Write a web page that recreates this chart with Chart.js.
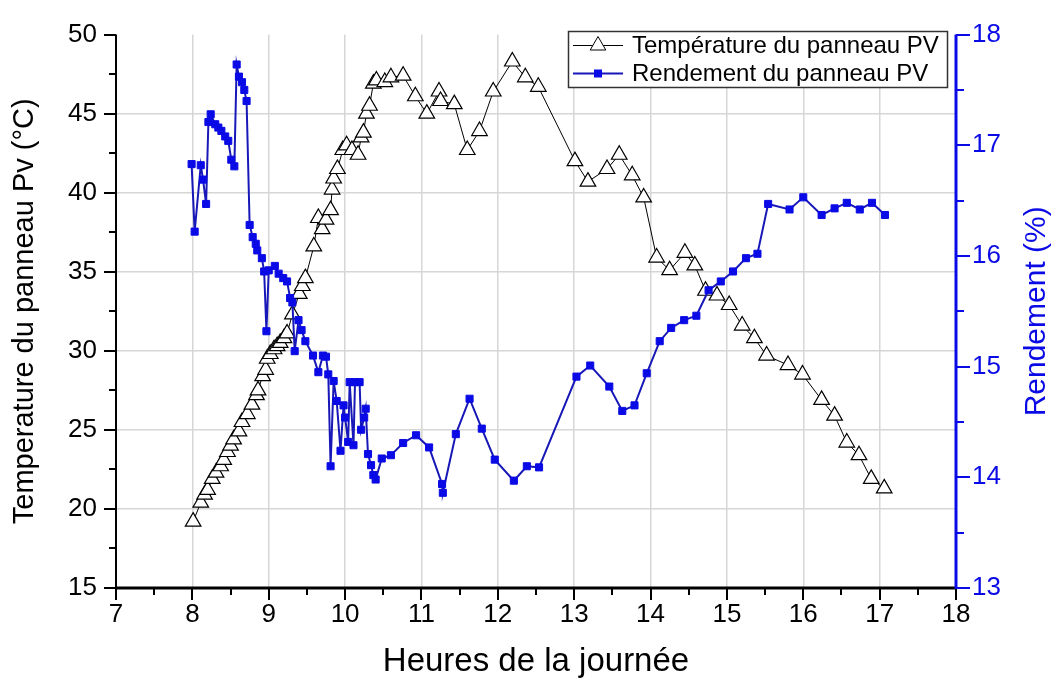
<!DOCTYPE html>
<html>
<head>
<meta charset="utf-8">
<script src="https://cdn.jsdelivr.net/npm/chart.js@4.4.1/dist/chart.umd.min.js"></script>
<style>
    html, body { margin: 0; padding: 0; background: #fff; }
    #chart { display: block; }
</style>
</head>
<body>
<canvas id="chart" width="1059" height="684"></canvas>
<script>
// Data
const tempHours = [8.01, 8.11, 8.16, 8.20, 8.26, 8.31, 8.37, 8.41, 8.46, 8.50, 8.54, 8.61, 8.65, 8.72, 8.78,
    8.84, 8.86, 8.92, 8.96, 8.98, 9.02, 9.07, 9.11, 9.15, 9.20, 9.24, 9.31, 9.40, 9.44, 9.48,
    9.59, 9.65, 9.70, 9.75, 9.81, 9.83, 9.85, 9.90, 9.97, 10.02, 10.09, 10.17, 10.21, 10.24, 10.28,
    10.32, 10.37, 10.41, 10.52, 10.60, 10.76, 10.92, 11.07, 11.23, 11.25, 11.43, 11.60, 11.76, 11.94,
    12.19, 12.36, 12.53, 13.01, 13.18, 13.43, 13.59, 13.76, 13.91, 14.08, 14.25, 14.45, 14.58, 14.72,
    14.87, 15.03, 15.20, 15.36, 15.52, 15.80, 15.99, 16.24, 16.41, 16.57, 16.73, 16.89, 17.06];
const tempValues = [19.2, 20.4, 20.9, 21.2, 21.9, 22.3, 22.7, 23.1, 23.6, 24.0, 24.4, 24.9, 25.5, 26.0, 26.6,
    27.2, 27.5, 28.4, 28.8, 29.5, 29.8, 30.1, 30.3, 30.5, 30.8, 31.1, 32.3, 33.6, 34.1, 34.6,
    36.6, 38.4, 37.7, 38.3, 38.9, 40.2, 40.9, 41.5, 42.7, 43.0, 42.7, 42.4, 43.5, 43.8, 45.0,
    45.5, 46.9, 47.1, 47.0, 47.3, 47.4, 46.1, 45.0, 46.4, 45.8, 45.6, 42.7, 43.9, 46.4,
    48.3, 47.3, 46.7, 42.0, 40.7, 41.5, 42.4, 41.1, 39.7, 35.9, 35.1, 36.2, 35.4, 33.8,
    33.5, 32.9, 31.6, 30.8, 29.7, 29.1, 28.5, 26.9, 25.9, 24.2, 23.4, 21.9, 21.3];

const yieldHours = [7.99, 8.03, 8.11, 8.14, 8.18, 8.21, 8.24, 8.30, 8.34, 8.38, 8.43, 8.47, 8.51, 8.55,
    8.58, 8.61, 8.65, 8.68, 8.71, 8.75, 8.79, 8.83, 8.85, 8.91, 8.94, 8.97, 9.00, 9.08, 9.13,
    9.19, 9.24, 9.28, 9.31, 9.34, 9.39, 9.43, 9.48, 9.58, 9.65, 9.71, 9.75, 9.78, 9.81, 9.85,
    9.89, 9.94, 9.98, 10.00, 10.04, 10.06, 10.11, 10.13, 10.19, 10.21, 10.25, 10.27, 10.30, 10.34,
    10.37, 10.40, 10.48, 10.60, 10.76, 10.93, 11.10, 11.27, 11.28, 11.45, 11.63, 11.79, 11.96,
    12.21, 12.38, 12.54, 13.03, 13.21, 13.46, 13.63, 13.79, 13.95, 14.12, 14.27, 14.44, 14.60,
    14.76, 14.92, 15.08, 15.25, 15.40, 15.54, 15.82, 16.00, 16.24, 16.41, 16.57, 16.74, 16.90, 17.07];
const yieldValues = [16.83, 16.22, 16.82, 16.69, 16.47, 17.21, 17.28, 17.19, 17.16, 17.13, 17.08, 17.04, 16.87, 16.81,
    17.73, 17.62, 17.57, 17.50, 17.40, 16.28, 16.17, 16.11, 16.05, 15.98, 15.86, 15.32, 15.87, 15.91, 15.84,
    15.80, 15.77, 15.62, 15.58, 15.14, 15.42, 15.33, 15.23, 15.10, 14.95, 15.10, 15.09, 14.93, 14.10, 14.87,
    14.69, 14.24, 14.65, 14.54, 14.32, 14.86, 14.29, 14.86, 14.86, 14.43, 14.54, 14.62, 14.21, 14.11,
    14.02, 13.98, 14.17, 14.20, 14.31, 14.38, 14.27, 13.94, 13.86, 14.39, 14.71, 14.44, 14.16,
    13.97, 14.10, 14.09, 14.91, 15.01, 14.82, 14.60, 14.65, 14.94, 15.23, 15.35, 15.42, 15.46,
    15.69, 15.77, 15.86, 15.98, 16.02, 16.47, 16.42, 16.53, 16.37, 16.43, 16.48, 16.42, 16.48, 16.37];

const xRange = [7, 18];
const tempRange = [15, 50];
const yieldRange = [13, 18];

const tempLabel = 'Température du panneau PV';
const yieldLabel = 'Rendement du panneau PV';

const FONT = 'Arial, "Liberation Sans", sans-serif';
const BLUE = '#0a0ae6';
const BLUE_LINE = '#1818b8';
const GRID = '#d6d6d6';

// Axis lines, tick marks, right title and legend drawn by hand
const decor = {
    id: 'decor',
    afterDraw(chart) {
        const ctx = chart.ctx;
        const { left, right, top, bottom } = chart.chartArea;
        const x = chart.scales.x, y = chart.scales.y, y1 = chart.scales.y1;

        const line = (x1, y1p, x2, y2) => {
            ctx.beginPath();
            ctx.moveTo(x1, y1p);
            ctx.lineTo(x2, y2);
            ctx.stroke();
        };

        ctx.save();
        ctx.strokeStyle = '#000';

        // left axis
        ctx.lineWidth = 2;
        line(left, top, left, bottom);
        for (let v = tempRange[0]; v <= tempRange[1]; v += 2.5) {
            const py = Math.round(y.getPixelForValue(v));
            line(left - (v % 5 === 0 ? 12 : 7), py, left, py);
        }

        // bottom axis
        for (let h = xRange[0]; h <= xRange[1]; h += 0.5) {
            const px = Math.round(x.getPixelForValue(h));
            line(px, bottom, px, bottom + (h % 1 === 0 ? 12 : 7));
        }
        ctx.lineWidth = 3;
        line(left - 1, bottom, right, bottom);

        // right axis (blue)
        ctx.strokeStyle = BLUE;
        ctx.lineWidth = 2;
        for (let v = yieldRange[0]; v <= yieldRange[1]; v += 0.5) {
            const py = Math.round(y1.getPixelForValue(v));
            line(right, py, right + (v % 1 === 0 ? 14 : 8), py);
        }
        ctx.lineWidth = 3;
        line(right, top, right, bottom + 1);

        // right title
        ctx.fillStyle = BLUE;
        ctx.font = '30px ' + FONT;
        ctx.textAlign = 'center';
        ctx.textBaseline = 'middle';
        ctx.translate(1037, (top + bottom) / 2);
        ctx.rotate(-Math.PI / 2);
        ctx.fillText('Rendement (%)', 0, 0);
        ctx.restore();

        // legend
        ctx.save();
        const bx = 568.5, by = 31.5, bw = 379, bh = 56;
        ctx.fillStyle = '#fff';
        ctx.fillRect(bx, by, bw, bh);
        ctx.strokeStyle = '#333';
        ctx.lineWidth = 1.5;
        ctx.strokeRect(bx, by, bw, bh);

        const r1 = by + 14, r2 = by + 42;
        ctx.strokeStyle = '#000';
        ctx.lineWidth = 1;
        line(573, r1, 623, r1);
        ctx.fillStyle = '#fff';
        ctx.beginPath();
        ctx.moveTo(598, r1 - 9);
        ctx.lineTo(598 + 7.8, r1 + 4.5);
        ctx.lineTo(598 - 7.8, r1 + 4.5);
        ctx.closePath();
        ctx.fill();
        ctx.stroke();

        ctx.strokeStyle = BLUE_LINE;
        ctx.lineWidth = 2;
        line(573, r2, 623, r2);
        ctx.fillStyle = BLUE;
        ctx.fillRect(594, r2 - 4, 8, 8);

        ctx.fillStyle = '#000';
        ctx.font = '24px ' + FONT;
        ctx.textAlign = 'left';
        ctx.textBaseline = 'middle';
        ctx.fillText(tempLabel, 632, r1 + 1);
        ctx.fillText(yieldLabel, 632, r2 + 1);
        ctx.restore();
    }
};

const ctx = document.getElementById('chart').getContext('2d');

new Chart(ctx, {
    type: 'line',
    data: {
        datasets: [
            {
                label: tempLabel,
                data: tempHours.map((h, i) => ({ x: h, y: tempValues[i] })),
                yAxisID: 'y',
                borderColor: '#000',
                borderWidth: 1,
                pointStyle: 'triangle',
                pointRadius: 9,
                pointBackgroundColor: '#fff',
                pointBorderColor: '#000',
                pointBorderWidth: 1.2,
                tension: 0,
                order: 1
            },
            {
                label: yieldLabel,
                data: yieldHours.map((h, i) => ({ x: h, y: yieldValues[i] })),
                yAxisID: 'y1',
                borderColor: BLUE_LINE,
                borderWidth: 2,
                pointStyle: 'rect',
                pointRadius: 5,
                pointBackgroundColor: BLUE,
                pointBorderColor: BLUE,
                pointBorderWidth: 1,
                tension: 0,
                order: 0
            }
        ]
    },
    options: {
        responsive: false,
        animation: false,
        devicePixelRatio: 1,
        layout: { padding: { top: 20, left: 0, right: 0, bottom: 0 } },
        plugins: {
            legend: { display: false },
            tooltip: { enabled: false }
        },
        scales: {
            x: {
                type: 'linear',
                min: xRange[0],
                max: xRange[1],
                ticks: { stepSize: 1, color: '#000', padding: 11, font: { family: FONT, size: 26 } },
                grid: {
                    drawTicks: false,
                    lineWidth: 1.5,
                    color: c => (c.tick && (c.tick.value === xRange[0] || c.tick.value === xRange[1])) ? 'rgba(0,0,0,0)' : GRID
                },
                border: { display: false },
                title: {
                    display: true,
                    text: 'Heures de la journée',
                    color: '#000',
                    font: { family: FONT, size: 33 },
                    padding: { top: 0, bottom: 2 }
                },
                afterFit: s => { s.height = 96; }
            },
            y: {
                position: 'left',
                min: tempRange[0],
                max: tempRange[1],
                ticks: { stepSize: 5, color: '#000', padding: 19, font: { family: FONT, size: 26 } },
                grid: {
                    drawTicks: false,
                    lineWidth: 1.5,
                    color: c => (c.tick && (c.tick.value === tempRange[0] || c.tick.value === tempRange[1])) ? 'rgba(0,0,0,0)' : GRID
                },
                border: { display: false },
                title: {
                    display: true,
                    text: 'Temperature du panneau Pv (°C)',
                    color: '#000',
                    font: { family: FONT, size: 29 },
                    padding: { top: 8, bottom: 0 }
                },
                afterFit: s => { s.width = 116; }
            },
            y1: {
                position: 'right',
                min: yieldRange[0],
                max: yieldRange[1],
                ticks: { stepSize: 1, color: BLUE, padding: 16, font: { family: FONT, size: 26 } },
                grid: { display: false, drawTicks: false },
                border: { display: false },
                afterFit: s => { s.width = 103; }
            }
        }
    },
    plugins: [decor]
});
</script>
</body>
</html>
